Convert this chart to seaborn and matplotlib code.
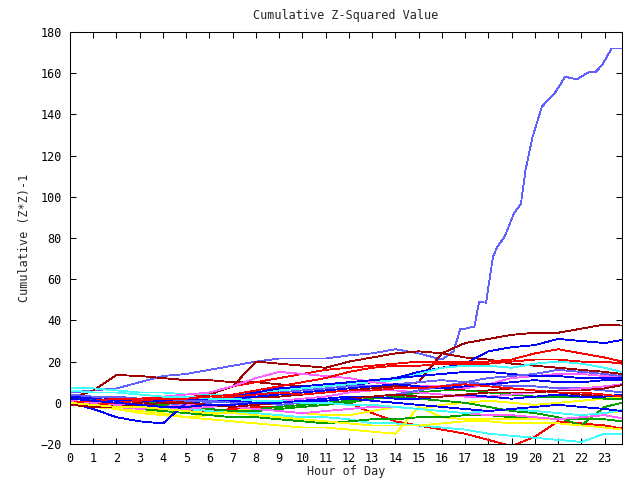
import numpy as np
import pandas as pd
import matplotlib
matplotlib.use("Agg")
import matplotlib.pyplot as plt
import seaborn as sns

# ---------------- data ----------------
hours = [0, 1, 2, 3, 4, 5, 6, 7, 8, 9, 10, 11, 12, 13, 14, 15, 16, 17, 18, 19, 20, 21, 22, 23, 23.75]

big_hours = [0, 1, 2, 3, 4, 5, 6, 7, 8, 9, 10, 11, 12, 13, 14, 15, 16, 16.5, 16.8, 17.0, 17.4,
             17.6, 17.9, 18.2, 18.4, 18.7, 19.1, 19.4, 19.6, 19.9, 20.3, 20.9, 21.3, 21.8,
             22.3, 22.6, 22.9, 23.3, 23.75]
big_values = [5, 6, 7, 10, 13, 14, 16, 18, 20, 21.5, 21.5, 21.5, 23, 24, 26, 24, 21, 25, 36, 36,
              37, 49, 48.6, 71, 76, 80.6, 92, 96.5, 113, 129, 143.7, 151, 158.3, 157,
              160.4, 160.4, 164, 172, 172]

series_values = {
    "s02": [0, 0, -1, -1, 0, 1, 1, 2, 3, 3, 4, 5, 6, 7, 8, 10, 24, 29, 31, 33, 34, 34, 36, 38, 37.5],
    "s03": [2, 6, 13.5, 13, 12, 11, 11, 10, 10, 9, 8, 9, 9, 8, 8, 7, 7, 6, 6, 7, 6, 5, 4, 3, 2],
    "s04": [0, -1, -1, 0, 1, 2, 4, 8, 20, 19, 18, 17, 20, 22, 24, 25, 24, 22, 21, 19, 18, 17, 16, 15, 14],
    "s05": [1, 0, -1, -2, -3, -2, 0, 2, 4, 6, 8, 9, 8, 10, 12, 15, 17, 19, 25, 27, 28, 31, 30, 29, 30.5],
    "s06": [0, -1, -2, -1, 0, 2, 5, 8, 10, 12, 14, 16, 17, 18, 19, 20, 20, 20, 20, 21, 24, 26, 24, 22, 20],
    "s07": [7, 7, 6, 5, 5, 4, 4, 4, 5, 6, 7, 8, 9, 10, 11, 14, 17, 18, 18, 17, 19, 20, 19, 17, 15],
    "s08": [3, 3, 2, 2, 3, 4, 5, 8, 12, 15, 14, 13, 12, 10, 9, 8, 8, 7, 9, 12, 13, 14, 14, 13, 12.5],
    "s09": [3, 3, 2, 1, 0, 0, 1, 3, 5, 7, 8, 9, 10, 11, 12, 13, 14, 15, 15, 14, 13, 13, 12, 12, 12],
    "s10": [2, 2, 1, 1, 0, -1, 0, 1, 3, 5, 6, 7, 8, 8, 9, 10, 11, 10, 9, 8, 8, 7, 7, 6, 5],
    "s11": [0, -1, -2, -3, -3, -4, -4, -3, -2, -2, -1, 0, 0, -5, -9, -11, -13, -15, -18, -21, -16.5, -9, -10, -11, -12.5],
    "s12": [0, -1, -2, -2, -3, -3, -4, -5, -5, -6, -7, -7, -8, -10, -10, -11, -12, -13, -15, -16, -17, -18, -19, -15, -15],
    "s13": [0, -2, -3, -4, -5, -7, -8, -9, -10, -11, -12, -12, -13, -14, -15, -2, -7, -8, -8, -8, -8, -8, -8, -5, -4],
    "s14": [-1, -2, -3, -5, -6, -7, -6, -4, -3, -4, -5, -6, -6, -4, -2, -3, -1, 0, 1, 0, -1, 0, 1, 2, 3],
    "s15": [0, -1, -2, -3, -4, -5, -6, -7, -7, -8, -9, -10, -9, -8, -8, -7, -7, -6, -6, -7, -7, -8, -8, -8, -9],
    "s16": [1, 0, 0, -1, -1, -2, -3, -4, -4, -3, -2, -1, 0, 2, 3, 2, 1, 0, -2, -4, -5, -7, -11, -2, 0],
    "s17": [2, 2, 1, 1, 0, 0, -1, -2, -3, -2, -1, 0, 1, 2, 3, 5, 6, 6, 5, 4, 3, 3, 3, 2, 2],
    "s18": [1, 0, -1, -1, -2, -3, -2, -1, 0, 1, 2, 3, 5, 6, 6, 5, 4, 3, 3, 4, 5, 6, 7, 8, 9],
    "s19": [0, -1, -2, -3, -2, -1, -1, -2, -3, -4, -5, -4, -3, -2, -2, -3, -4, -5, -6, -6, -7, -8, -7, -6, -7.5],
    "s20": [0, -3, -7, -9, -10, 0, 1, 2, 3, 4, 5, 6, 7, 8, 9, 8, 7, 8, 9, 10, 11, 10, 10, 11, 11],
    "s21": [3, 2, 1, 1, 1, 2, 2, 1, 0, 0, 1, 2, 3, 3, 2, 2, 3, 4, 3, 2, 3, 4, 3, 3, 4],
    "s22": [4, 3, 3, 2, 2, 1, 1, 0, 0, -1, 0, 1, 2, 3, 4, 6, 8, 10, 12, 13, 14, 16, 15, 14, 13],
    "s23": [0, 1, 2, 2, 3, 3, 2, 3, 4, 5, 4, 5, 6, 6, 7, 7, 8, 9, 8, 7, 6, 5, 5, 4, 3],
    "s24": [-1, -2, -2, -1, 0, 0, -1, -2, -1, 0, 1, 1, 2, 3, 4, 3, 3, 4, 5, 5, 5, 6, 6, 7, 8.6],
    "s25": [6, 5, 5, 4, 3, 3, 2, 2, 1, 1, 0, 0, -1, -1, -2, -3, -4, -5, -4, -3, -4, -5, -6, -5, -3.5],
    "s26": [0, -1, 0, 1, 2, 2, 3, 4, 6, 8, 10, 12, 15, 17, 18, 18, 19, 19, 19, 20, 21, 21, 20, 20, 19],
    "s27": [0, -1, -2, -2, -3, -4, -5, -5, -6, -7, -8, -9, -10, -11, -11, -11, -10, -9, -9, -10, -10, -10, -11, -12, -13],
    "s28": [2, 1, 0, -1, -2, -2, -1, -1, 0, 0, 1, 1, 2, 1, 0, -1, -2, -3, -4, -3, -2, -1, -2, -3, -4],
}

RED, DRED, GREEN, BLUE, LBLUE, MAG, CYAN, YEL = (
    "#ff0000", "#a00000", "#00a000", "#0000ff", "#6060ff", "#ff60ff", "#40ffff", "#ffff00")
series_colors = {
    "s01": LBLUE, "s02": DRED, "s03": DRED, "s04": DRED, "s05": BLUE, "s06": RED,
    "s07": CYAN, "s08": MAG, "s09": BLUE, "s10": LBLUE, "s11": RED, "s12": CYAN,
    "s13": YEL, "s14": YEL, "s15": GREEN, "s16": GREEN, "s17": GREEN, "s18": MAG,
    "s19": MAG, "s20": BLUE, "s21": BLUE, "s22": LBLUE, "s23": RED, "s24": DRED,
    "s25": CYAN, "s26": RED, "s27": YEL, "s28": BLUE,
}

# ---------------- build long table ----------------
rows = []
for h, v in zip(big_hours, big_values):
    rows.append(("s01", h, v))
for name, vals in series_values.items():
    for h, v in zip(hours, vals):
        rows.append((name, h, v))
df = pd.DataFrame(rows, columns=["series", "hour", "value"])

# ---------------- plot ----------------
sns.set_style("white")
mono = ["DejaVu Sans Mono"]
plt.rcParams["font.family"] = mono
plt.rcParams["font.size"] = 8.5

fig = plt.figure(figsize=(6.4, 4.8), dpi=100)
ax = fig.add_axes([70 / 640, 1 - 444 / 480, (622 - 70) / 640, (444 - 32) / 480])

order = ["s01"] + list(series_values.keys())
sns.lineplot(data=df, x="hour", y="value", hue="series", hue_order=order,
             palette=series_colors, estimator=None, sort=False, legend=False,
             linewidth=0.6, antialiased=False, ax=ax)

ax.set_xlim(0, 23.75)
ax.set_ylim(-20, 180)
ax.set_xticks(range(0, 24))
ax.set_yticks(range(-20, 181, 20))
ax.tick_params(axis="both", direction="in", length=4, width=0.75,
               top=True, right=True, bottom=True, left=True,
               labelsize=8.5, pad=6, colors="black")
for s in ax.spines.values():
    s.set_visible(True)
    s.set_color("black")
    s.set_linewidth(0.75)

ax.set_xlabel("")
ax.set_ylabel("")
fig.text(346 / 640, 1 - 471 / 480, "Hour of Day", ha="center", va="center", fontsize=8.5)
fig.text(25 / 640, 1 - 238 / 480, "Cumulative (Z*Z)-1", ha="center", va="center",
         rotation=90, fontsize=8.5)
fig.text(346 / 640, 1 - 15 / 480, "Cumulative Z-Squared Value", ha="center", va="center",
         fontsize=8.5)

fig.savefig("out.png", dpi=100, facecolor="white")
